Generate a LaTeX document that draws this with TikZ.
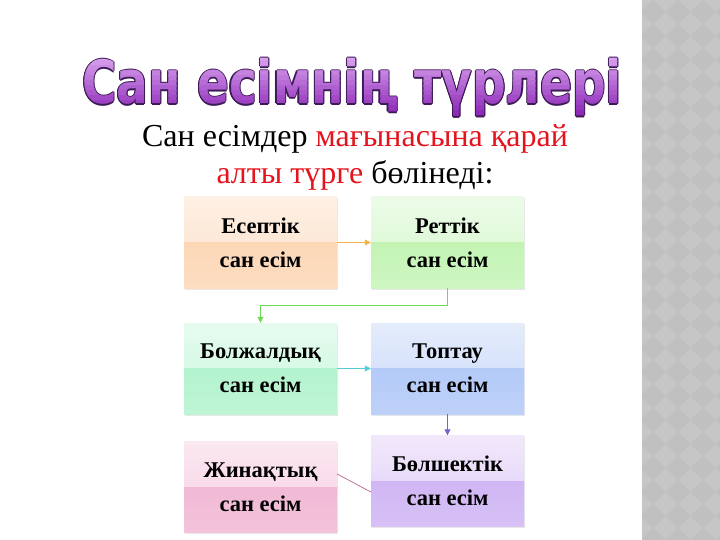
\documentclass[tikz,border=0pt]{standalone}
\usepackage{fontspec}
\usepackage{graphicx}
\setmainfont{Liberation Serif}
\newfontfamily\titlefont{DejaVu Sans}
\usetikzlibrary{arrows.meta, positioning, shadows, calc}

\definecolor{redtxt}{HTML}{E3141E}
\definecolor{tlight}{HTML}{D9A2EE}
\definecolor{tdark}{HTML}{8E2AB8}
\definecolor{tline}{HTML}{3C1A55}
\definecolor{panelgray}{HTML}{C6C6C6}
\definecolor{paneldark}{HTML}{C0C0C0}
% box colours: top half (a,b), lower half (c,d)
\definecolor{orA}{HTML}{FEF0E4}\definecolor{orB}{HTML}{FCE0C9}\definecolor{orC}{HTML}{FBD2AC}\definecolor{orD}{HTML}{FCDDC1}
\definecolor{grA}{HTML}{ECFBE8}\definecolor{grB}{HTML}{D3F8CA}\definecolor{grC}{HTML}{B8F2A6}\definecolor{grD}{HTML}{CEF6C2}
\definecolor{mnA}{HTML}{E6FBEF}\definecolor{mnB}{HTML}{C8F8DD}\definecolor{mnC}{HTML}{A7F2C6}\definecolor{mnD}{HTML}{BFF5D5}
\definecolor{blA}{HTML}{E4ECFB}\definecolor{blB}{HTML}{CADAFA}\definecolor{blC}{HTML}{A9C3F7}\definecolor{blD}{HTML}{BED1F8}
\definecolor{vlA}{HTML}{F2E8FB}\definecolor{vlB}{HTML}{DDCDF8}\definecolor{vlC}{HTML}{C9ABF3}\definecolor{vlD}{HTML}{D7C1F5}
\definecolor{pkA}{HTML}{FBE8F1}\definecolor{pkB}{HTML}{F6CEE1}\definecolor{pkC}{HTML}{EEAFCF}\definecolor{pkD}{HTML}{F3C3DB}
\definecolor{orln}{HTML}{F2B544}
\definecolor{grln}{HTML}{6CDB55}
\definecolor{mnln}{HTML}{55CCDA}
\definecolor{vlln}{HTML}{7A62CC}
\definecolor{pkln}{HTML}{B0508C}

\newcommand{\titletxt}{\scalebox{1}[1.27]{Сан есімнің түрлері}}

\tikzset{
  titletext/.style={anchor=base, inner sep=0pt, font=\titlefont\bfseries\fontsize{47}{50}\selectfont},
  subline/.style={anchor=base, inner sep=0pt, font=\fontsize{32}{38}\selectfont},
  numbox/.style={minimum width=153pt, minimum height=91pt, inner sep=0pt,
    align=center, font=\bfseries\fontsize{22.5}{34}\selectfont,
    top color=#1A, bottom color=#1B,
    drop shadow={opacity=0.18, shadow xshift=0.5pt, shadow yshift=-1.5pt},
    path picture={\shade[top color=#1C, bottom color=#1D]
      (path picture bounding box.west) rectangle (path picture bounding box.south east);}},
  link/.style={draw=#1, line width=0.8pt, -{Triangle[length=6pt, width=6pt]}}
}

\begin{document}
\begin{tikzpicture}[x=1pt, y=-1pt]
  \useasboundingbox (0,0) rectangle (720,540);
  % grey strip on the right
  \fill[panelgray] (642,0) rectangle (720,540);
  \begin{scope}
    \clip (642,0) rectangle (720,540);
    \foreach \x in {628,653,...,728}
      \foreach \y in {-12,12,...,552}
        \fill[paneldark] (\x,\y-12) -- (\x+12.5,\y) -- (\x,\y+12) -- (\x-12.5,\y) -- cycle;
  \end{scope}

  % title
  \foreach \a in {0,45,...,315}
    \node[titletext, text=tline] at ($(352,104)+(\a:1.1)$) {\titletxt};
  \foreach \k in {0,...,11} {
    \pgfmathtruncatemacro\p{100*\k/11}
    \begin{scope}
      \clip (60,{\k==0 ? 30 : 56+5*\k}) rectangle (640,{\k==11 ? 130 : 61.4+5*\k});
      \node[titletext, text=tdark!\p!tlight] (title) at (352,104) {\titletxt};
    \end{scope}
  }

  \node[subline] (sub1) at (355,147) {Сан есімдер \textcolor{redtxt}{мағынасына қарай}};
  \node[subline] (sub2) at (355,184) {\textcolor{redtxt}{алты түрге} бөлінеді:};

  % the six kinds
  \node[numbox=or] (esep) at (260.5,242.5) {Есептік\\сан есім};
  \node[numbox=gr] (rett) at (447.5,242.5) {Реттік\\сан есім};
  \node[numbox=mn] (bolj) at (260.5,368.5) {Болжалдық\\сан есім};
  \node[numbox=bl] (topt) at (447.5,368.5) {Топтау\\сан есім};
  \node[numbox=vl] (bolsh) at (447.5,481) {Бөлшектік\\сан есім};
  \node[numbox=pk] (jinak) at (260.5,487) {Жинақтық\\сан есім};

  \draw[link=orln] (esep) -- (rett);
  \draw[link=grln] (rett.south) -- ++(0,17) -| (bolj.north);
  \draw[link=mnln] (bolj) -- (topt);
  \draw[link=vlln] (topt) -- (bolsh);
  \draw[pkln, line width=0.6pt] ([yshift=-11pt]bolsh.west) -- ([yshift=13pt]jinak.east);
\end{tikzpicture}
\end{document}
